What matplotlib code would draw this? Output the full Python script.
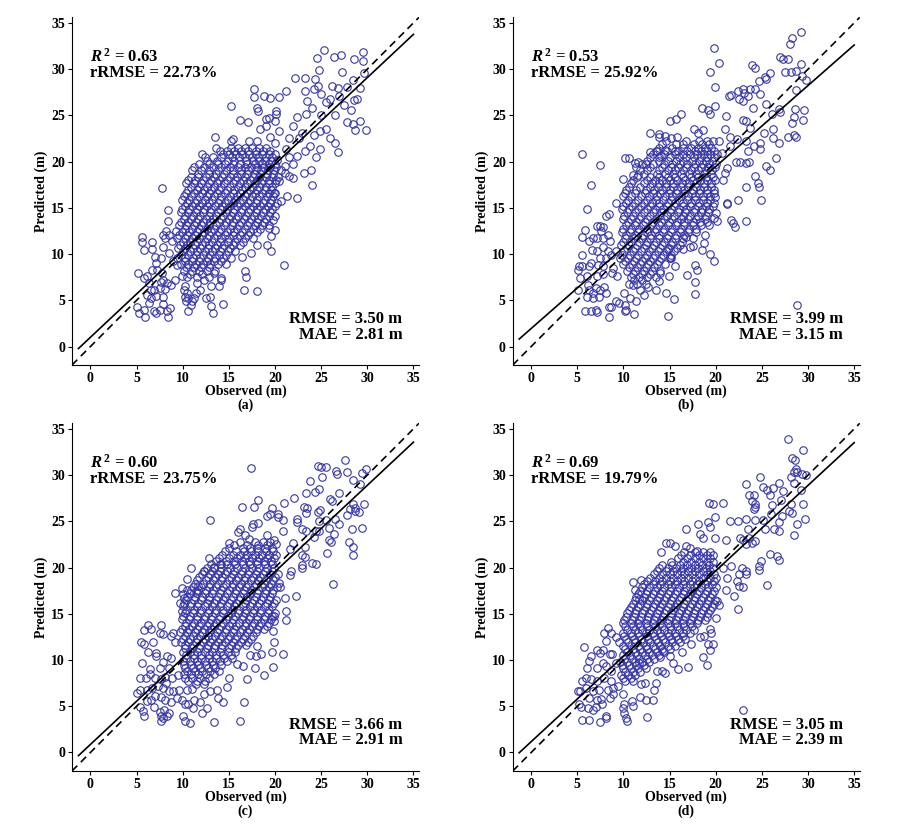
import numpy as np
import matplotlib
matplotlib.use("Agg")
import matplotlib.pyplot as plt

plt.rcParams['font.family'] = ['Liberation Serif', 'DejaVu Serif']
plt.rcParams['font.weight'] = 'bold'
plt.rcParams['mathtext.fontset'] = 'custom'
plt.rcParams['mathtext.rm'] = 'Liberation Serif:bold'
plt.rcParams['mathtext.bf'] = 'Liberation Serif:bold'
plt.rcParams['mathtext.it'] = 'Liberation Serif:italic:bold'

# ---- panel (a): scattered points (observed, predicted) ----
pts_a = [(25.3,32.1),(24.6,31.2),(26.4,31.3),(27.1,31.5),(29.5,31.8),(28.6,31.1),(29.5,30.9),
         (24.8,29.9),(27.3,29.7),(29.6,29.6),(22.2,29.0),(23.2,29.0),(24.3,28.9),(24.7,28.2),
         (26.2,28.2),(26.8,28.0),(27.8,28.1),(28.4,28.8),(29.2,28.0),(23.3,27.6),(24.2,27.9),
         (25.0,27.3),(26.0,26.8),(26.9,27.1),(28.6,26.7),(28.9,26.8),(27.5,26.1),(28.2,25.6),
         (23.5,26.5),(24.0,25.8),(25.5,26.4),(26.5,25.0),(25.0,25.0),(23.4,25.1),(22.4,24.8),
         (27.8,24.3),(28.4,24.1),(29.2,24.4),(28.7,23.4),(29.9,23.4),(24.9,23.3),(25.5,23.5),
         (22.0,23.9),(22.9,23.1),(24.2,22.9),(26.0,22.6),(26.5,22.0),(22.6,22.6),(21.5,22.5),
         (23.8,21.7),(24.9,21.4),(26.8,21.0),(23.2,21.2),(22.4,20.6),(24.4,20.5),(22.0,19.7),
         (23.1,18.8),(23.9,19.1),(21.5,18.4),(22.0,18.2),(24.0,17.5),(21.3,16.3),(22.4,16.1),
         (21.0,8.8),(21.1,19.5),(21.5,20.5),(21.2,21.4),
         (17.7,27.8),(17.7,27.0),(18.8,27.1),(19.5,26.9),(20.4,27.0),(21.2,27.6),(15.2,26.0),
         (18.1,25.8),(18.2,25.5),(20.1,25.5),(20.1,25.1),(16.2,24.5),(17.1,24.3),(19.0,24.6),
         (19.3,24.7),(19.96,24.4),(18.4,23.5),(19.0,23.8),(20.4,23.3),(19.5,22.7),(13.5,22.7),
         (15.2,22.2),(15.5,22.4),(17.2,22.2),(18.1,22.2),(20.0,22.0),
         (5.6,11.8),(5.6,11.3),(6.7,11.3),(5.8,10.4),(6.7,10.6),(7.8,17.1),(8.4,14.8),(8.4,13.6),
         (5.2,7.9),(5.8,7.4),(6.1,7.6),(6.7,8.3),(7.0,9.7),(7.1,9.0),(7.6,9.6),(7.9,10.8),
         (8.1,11.7),(7.9,12.1),(8.5,12.1),(8.2,12.5),(8.8,11.4),(8.5,10.1),(9.3,12.5),(9.0,9.2),
         (9.4,8.8),(7.2,8.3),(7.8,7.9),(7.6,7.0),(7.9,7.2),(6.4,6.9),(6.9,6.1),(7.5,6.3),
         (8.1,6.2),(8.3,6.9),(8.7,6.7),(6.1,5.6),(6.6,5.2),(7.1,5.5),(7.9,5.4),(5.1,4.3),
         (5.3,3.6),(5.8,4.0),(5.96,3.2),(6.4,4.7),(6.9,3.8),(7.1,3.6),(7.5,4.0),(7.9,4.6),
         (8.3,3.8),(8.4,3.2),(8.6,4.2),(6.6,6.1),
         (9.9,7.6),(9.2,7.2),(10.3,6.6),(10.1,6.1),(10.5,5.8),(10.2,5.4),(10.6,5.2),(10.4,4.9),
         (11.0,4.9),(11.4,5.8),(11.2,5.2),(10.9,4.5),(10.6,3.8),(11.9,6.1),(11.6,6.9),(12.5,5.2),
         (12.3,7.2),(13.1,6.6),(13.0,5.4),(13.1,4.4),(13.3,3.6),(13.9,6.6),(14.1,7.2),(14.4,4.6),
         (13.4,7.9),(14.1,7.4),(16.6,6.1),(16.9,7.5),(16.7,8.2),(18.0,6.0),(16.4,9.7),(17.4,10.1),
         (18.1,11.0),(19.1,11.0),(19.6,10.3),(20.0,12.6),(19.3,12.8),(19.6,12.0),(20.0,14.1),
         (19.8,13.7),(20.7,15.7),(19.9,16.6),(20.4,17.9),(20.6,19.1),(21.1,18.8),(20.2,20.2)]
# dense core of panel (a): predicted value of each row, observed values in that row
core_a_y = [21.5, 20.8, 20.1, 19.4, 18.7, 18.0, 17.3, 16.6, 15.9, 15.2, 14.5,
            13.8, 13.1, 12.4, 11.7, 11.0, 10.3, 9.6, 8.9, 8.2, 7.5]
core_a_x = [[13.6, 15.2, 16.0, 16.7, 17.5, 18.3, 19.0],
            [12.1, 14.4, 15.0, 15.8, 16.4, 17.2, 17.9, 18.6, 19.3, 20.0],
            [12.6, 13.7, 14.9, 15.6, 16.9, 17.6, 18.3, 18.9, 19.6],
            [11.2, 12.3, 13.3, 14.2, 15.1, 16.0, 16.7, 17.4, 18.1, 18.8, 19.5, 20.1],
            [11.7, 12.8, 13.6, 14.5, 15.4, 16.3, 17.0, 17.8, 18.4, 19.1, 19.8],
            [10.6, 11.3, 12.2, 13.1, 13.9, 14.8, 15.7, 16.5, 17.3, 18.0, 18.7, 19.4, 20.1],
            [10.9, 11.8, 12.6, 13.4, 14.2, 15.1, 16.0, 16.8, 17.6, 18.3, 19.0, 19.7],
            [10.4, 11.2, 12.1, 12.9, 13.7, 14.6, 15.4, 16.2, 17.0, 17.8, 18.6, 19.3, 20.0],
            [9.9, 10.7, 11.5, 12.4, 13.2, 14.0, 14.9, 15.7, 16.5, 17.3, 18.1, 18.9, 19.6],
            [10.2, 11.0, 11.8, 12.6, 13.5, 14.3, 15.1, 15.9, 16.8, 17.6, 18.4, 19.2, 20.0],
            [9.8, 10.6, 11.4, 12.2, 13.0, 13.8, 14.7, 15.5, 16.3, 17.1, 17.9, 18.7, 19.5],
            [10.1, 10.9, 11.7, 12.5, 13.3, 14.2, 15.0, 15.8, 16.6, 17.4, 18.2, 19.0],
            [9.6, 10.4, 11.2, 12.0, 12.8, 13.6, 14.5, 15.3, 16.1, 17.0, 17.8, 18.6, 19.3],
            [9.9, 10.7, 11.5, 12.3, 13.1, 13.9, 14.8, 15.6, 16.4, 17.3, 18.1],
            [9.4, 10.2, 11.0, 11.8, 12.6, 13.4, 14.2, 15.0, 15.9, 16.7, 17.6],
            [9.7, 10.5, 11.3, 12.1, 12.9, 13.7, 14.5, 15.4, 16.2],
            [10.0, 10.8, 11.6, 12.4, 13.2, 14.0, 14.9, 15.7],
            [9.4, 10.3, 11.1, 11.9, 12.7, 13.5, 14.4, 15.2],
            [9.8, 10.6, 11.4, 12.2, 13.0, 13.8, 14.7],
            [10.1, 11.0, 11.8, 12.6, 13.5],
            [10.5, 11.5, 12.8]]
core_a_y2 = [21.15, 20.45, 19.75, 19.05, 18.35, 17.65, 16.95, 16.25, 15.55, 14.85,
             14.15, 13.45, 12.75, 12.05, 11.35, 10.65, 9.95, 9.25, 8.55, 7.85]
core_a_x2 = [[14.0, 14.8, 15.6, 16.3, 17.1, 17.9, 18.7, 19.5],
             [12.4, 13.3, 14.1, 15.3, 16.1, 16.8, 17.5, 18.2, 19.0, 19.7],
             [11.8, 12.9, 13.8, 14.6, 15.4, 16.2, 17.0, 17.8, 18.6, 19.3, 20.0],
             [11.0, 12.0, 12.9, 13.8, 14.7, 15.5, 16.3, 17.1, 17.9, 18.5, 19.2, 19.9],
             [10.9, 11.7, 12.5, 13.4, 14.3, 15.1, 15.9, 16.8, 17.6, 18.3, 19.0, 19.7, 20.3],
             [10.4, 11.2, 12.0, 12.9, 13.7, 14.5, 15.4, 16.2, 17.0, 17.8, 18.5, 19.3, 20.0],
             [10.6, 11.5, 12.3, 13.1, 13.9, 14.8, 15.6, 16.4, 17.3, 18.1, 18.9, 19.6],
             [10.1, 10.9, 11.8, 12.6, 13.4, 14.2, 15.1, 15.9, 16.7, 17.5, 18.3, 19.1, 19.8],
             [10.5, 11.3, 12.1, 12.9, 13.8, 14.6, 15.4, 16.2, 17.1, 17.9, 18.7, 19.5, 20.2],
             [9.9, 10.7, 11.5, 12.3, 13.1, 14.0, 14.8, 15.6, 16.4, 17.3, 18.1, 18.9, 19.7],
             [10.3, 11.1, 11.9, 12.8, 13.6, 14.4, 15.2, 16.0, 16.9, 17.7, 18.5, 19.3],
             [9.8, 10.6, 11.4, 12.2, 13.0, 13.9, 14.7, 15.5, 16.3, 17.2, 18.0, 18.8],
             [10.2, 11.0, 11.8, 12.6, 13.4, 14.2, 15.1, 15.9, 16.8, 17.6, 18.4],
             [9.6, 10.5, 11.3, 12.1, 12.9, 13.7, 14.6, 15.4, 16.2, 17.1],
             [10.0, 10.8, 11.6, 12.4, 13.2, 14.0, 14.9, 15.7, 16.5],
             [9.5, 10.3, 11.1, 11.9, 12.7, 13.5, 14.3, 15.1],
             [9.8, 10.6, 11.4, 12.2, 13.0, 13.9, 14.7],
             [10.2, 11.0, 11.8, 12.6, 13.4, 14.2],
             [10.4, 11.2, 12.0, 12.9],
             [10.8, 12.1]]

# ---- panel (b) ----
pts_b = [(29.2,34.0),(28.3,33.4),(28.0,32.7),(19.8,32.3),(20.4,30.7),(19.4,29.7),(19.9,28.1),
         (27.0,31.3),(27.3,31.1),(27.8,31.1),(29.2,30.6),(23.9,30.5),(24.3,30.1),(27.5,29.7),
         (28.2,29.7),(28.7,29.8),(29.3,29.3),(29.8,28.8),(25.9,29.6),(25.3,29.2),(25.4,28.9),
         (24.7,28.7),(22.9,27.9),(23.7,27.8),(24.2,27.8),(22.4,27.6),(21.4,27.1),(21.6,27.2),
         (28.7,27.7),(23.1,27.4),(23.5,27.1),(22.5,26.8),(22.9,26.5),(24.8,27.3),(24.0,25.8),
         (25.4,26.2),(26.8,25.7),(28.6,25.7),(29.6,25.6),(26.97,25.4),(26.1,25.1),(21.1,24.9),
         (22.9,24.5),(23.3,24.4),(28.5,24.8),(28.3,24.2),(29.5,24.5),(25.2,23.1),(26.2,23.5),
         (23.7,23.6),(21.0,23.5),(27.8,22.7),(28.5,22.9),(28.7,22.7),(26.2,22.6),(26.8,22.0),
         (24.8,22.0),(23.3,22.2),(22.3,22.4),(24.1,21.7),(24.8,21.4),(23.5,21.1),(22.2,20.0),
         (22.6,20.0),(26.5,20.4),(25.4,19.5),(25.9,19.1),(23.3,19.8),(23.6,20.0),(24.2,18.4),
         (24.6,17.7),(24.7,17.2),(23.3,17.2),(24.9,15.9),(22.4,15.9),(21.2,15.4),(21.7,13.7),
         (21.9,13.4),(22.1,12.9),(23.3,13.6),(28.8,4.5),(20.8,18.0),(21.0,18.8),(21.2,19.3),
         (20.7,20.9),(21.5,21.7),(20.4,22.2),(21.5,22.7),
         (18.5,25.8),(19.2,25.6),(19.9,26.0),(19.4,25.1),(15.0,24.4),(15.7,24.6),(16.2,25.1),
         (12.9,23.1),(13.8,23.0),(13.9,22.7),(14.5,22.8),(15.2,22.5),(15.8,22.7),(17.6,23.5),
         (18.1,23.1),(18.6,23.4),(12.9,21.0),(13.6,21.2),(14.1,20.6),(14.5,21.3),(15.6,21.1),
         (10.2,20.4),(10.6,20.4),(11.2,19.9),(11.6,20.0),(12.4,19.7),(10.0,18.1),(11.0,18.6),
         (11.6,18.5),(9.2,15.5),
         (5.5,20.8),(7.5,19.6),(6.5,17.5),(6.0,14.9),(5.8,12.6),(5.5,11.8),(6.3,11.4),(5.5,9.9),
         (6.7,11.7),(7.1,13.0),(7.5,13.0),(7.8,12.9),(7.6,12.5),(8.1,14.1),(8.4,14.3),(7.1,11.7),
         (7.8,11.7),(8.3,12.1),(8.5,11.4),(7.8,10.8),(8.3,10.3),(7.1,10.3),(6.6,10.4),(7.5,9.6),
         (8.1,9.6),(8.6,9.9),(9.2,10.3),(6.5,9.0),(7.2,8.8),(7.8,8.7),(5.2,8.7),(5.5,8.7),
         (5.1,8.3),(6.3,8.7),(5.3,7.4),(6.0,7.6),(7.1,7.6),(7.8,7.8),(8.9,8.5),(8.8,7.9),
         (9.3,7.6),(5.1,6.1),(6.2,6.7),(6.3,6.1),(6.7,5.8),(7.0,6.3),(7.5,6.1),(7.9,6.4),
         (8.1,5.8),(7.4,5.4),(6.7,5.2),(6.0,5.4),(5.8,3.8),(6.5,3.8),(7.0,4.0),(7.1,3.7),
         (8.4,4.3),(8.6,4.3),(8.4,3.2),(9.2,4.9),(9.5,4.7),(10.2,4.5),(10.3,4.0),(10.2,3.8),
         (11.1,3.5),(10.1,5.8),(10.7,5.2),(11.4,4.9),(11.0,6.7),(11.8,6.1),(12.2,5.6),(12.7,6.4),
         (13.5,6.1),(13.8,7.1),(14.0,7.9),(14.6,5.8),(15.5,5.1),(14.8,3.3),(14.9,7.6),(15.6,8.7),
         (15.0,9.7),(15.2,9.6),(16.9,7.7),(17.7,7.0),(17.8,5.7),(17.7,8.8),(18.0,8.3),(18.5,10.4),
         (18.7,11.2),(19.4,10.0),(19.8,9.3),(18.8,12.1),(19.8,13.9),(20.1,13.6),(20.0,14.4),
         (19.9,16.2),(21.2,15.5),(17.2,10.8),(17.5,10.9),(16.8,11.8),(16.5,10.6),(14.8,10.6)]
core_b_y = [22.2, 21.5, 20.8, 20.1, 19.4, 18.7, 18.0, 17.3, 16.6, 15.9, 15.2, 14.5,
            13.8, 13.1, 12.4, 11.7, 11.0, 10.3, 9.6, 8.9, 8.2, 7.5, 6.8]
core_b_x = [[14.6, 16.8, 18.2, 19.0, 19.7],
            [13.9, 15.3, 16.5, 17.3, 18.1, 18.8, 19.5],
            [13.2, 14.4, 15.6, 16.4, 17.2, 18.0, 18.7, 19.4, 20.1],
            [12.6, 13.8, 14.8, 15.7, 16.5, 17.4, 18.2, 18.9, 19.6],
            [11.4, 12.9, 14.2, 15.1, 15.9, 16.8, 17.6, 18.4, 19.2, 19.9],
            [12.2, 13.6, 14.5, 15.4, 16.2, 17.1, 17.9, 18.7, 19.5],
            [11.0, 12.6, 13.4, 14.2, 15.0, 15.8, 16.7, 17.5, 18.3, 19.1, 19.9],
            [10.6, 11.8, 12.9, 13.7, 14.6, 15.4, 16.2, 17.0, 17.9, 18.7, 19.5],
            [10.2, 11.2, 12.3, 13.2, 14.0, 14.9, 15.7, 16.6, 17.4, 18.2, 19.0, 19.8],
            [10.5, 11.6, 12.6, 13.5, 14.3, 15.2, 16.0, 16.9, 17.7, 18.6, 19.4],
            [10.0, 10.9, 11.9, 12.9, 13.8, 14.7, 15.5, 16.4, 17.2, 18.1, 18.9, 19.7],
            [10.4, 11.3, 12.2, 13.2, 14.1, 15.0, 15.9, 16.7, 17.6, 18.4, 19.2],
            [9.9, 10.8, 11.7, 12.6, 13.5, 14.4, 15.3, 16.2, 17.0, 17.9, 18.8],
            [10.3, 11.2, 12.1, 13.0, 13.9, 14.8, 15.7, 16.6, 17.5, 18.4, 19.3],
            [9.8, 10.7, 11.6, 12.5, 13.4, 14.3, 15.2, 16.1, 17.0, 17.9],
            [10.2, 11.1, 12.0, 12.9, 13.8, 14.7, 15.6, 16.5, 17.5],
            [9.7, 10.6, 11.5, 12.4, 13.3, 14.2, 15.1, 16.1],
            [10.1, 11.0, 11.9, 12.8, 13.7, 14.6, 15.5],
            [9.6, 10.5, 11.4, 12.3, 13.2, 14.1, 15.0],
            [10.0, 10.9, 11.8, 12.7, 13.6, 14.5],
            [10.4, 11.3, 12.2, 13.1, 14.0],
            [10.8, 11.7, 12.6, 13.5],
            [10.6, 11.5, 12.4]]
core_b_y2 = [21.85, 21.15, 20.45, 19.75, 19.05, 18.35, 17.65, 16.95, 16.25, 15.55, 14.85,
             14.15, 13.45, 12.75, 12.05, 11.35, 10.65, 9.95, 9.25, 8.55, 7.85, 7.15]
core_b_x2 = [[14.2, 15.7, 16.4, 17.6, 18.5, 19.3],
             [13.5, 14.7, 15.9, 16.9, 17.7, 18.4, 19.1, 19.8],
             [12.9, 13.8, 15.0, 16.0, 16.8, 17.6, 18.4, 19.0, 19.8],
             [12.0, 13.2, 14.4, 15.3, 16.1, 16.9, 17.8, 18.6, 19.3, 20.0],
             [11.8, 12.6, 13.9, 14.8, 15.6, 16.5, 17.3, 18.1, 18.9, 19.6],
             [11.5, 12.9, 13.9, 14.8, 15.6, 16.4, 17.3, 18.1, 18.9, 19.7],
             [10.8, 12.2, 13.1, 13.8, 14.6, 15.4, 16.3, 17.1, 17.9, 18.7, 19.5],
             [10.3, 11.4, 12.4, 13.3, 14.2, 15.0, 15.8, 16.6, 17.5, 18.3, 19.1, 19.8],
             [10.0, 10.8, 11.9, 12.8, 13.6, 14.5, 15.3, 16.2, 17.0, 17.8, 18.6, 19.4],
             [10.3, 11.3, 12.2, 13.1, 13.9, 14.8, 15.6, 16.5, 17.3, 18.2, 19.0, 19.8],
             [9.8, 10.6, 11.6, 12.5, 13.4, 14.3, 15.1, 16.0, 16.8, 17.7, 18.5, 19.3],
             [10.1, 11.0, 11.9, 12.9, 13.8, 14.7, 15.5, 16.4, 17.2, 18.1, 18.9],
             [10.5, 11.4, 12.3, 13.2, 14.1, 14.9, 15.8, 16.6, 17.5, 18.3, 19.1],
             [9.9, 10.8, 11.7, 12.6, 13.5, 14.4, 15.3, 16.2, 17.1, 17.9],
             [10.3, 11.2, 12.1, 13.0, 13.9, 14.8, 15.7, 16.6],
             [9.9, 10.8, 11.7, 12.6, 13.5, 14.4, 15.3, 16.3],
             [10.4, 11.3, 12.2, 13.1, 14.0, 14.9, 15.8],
             [9.8, 10.7, 11.6, 12.5, 13.4, 14.3, 15.2],
             [10.2, 11.1, 12.0, 12.9, 13.8],
             [10.6, 11.5, 12.4, 13.3],
             [11.0, 12.0, 12.9],
             [11.1, 12.0]]

# ---- panel (c) ----
pts_c = [(27.6,31.6),(24.7,31.0),(25.0,30.9),(25.5,30.9),(17.4,30.8),(26.6,30.4),(26.7,30.1),
         (27.8,30.3),(29.4,30.2),(29.9,30.7),(25.1,29.8),(23.8,29.4),(28.5,29.5),(29.2,29.0),
         (23.4,28.1),(24.3,28.2),(24.8,28.5),(26.9,28.1),(22.1,27.5),(21.0,27.0),(26.0,27.4),
         (26.2,27.2),(29.6,26.9),(28.5,26.9),(28.7,26.4),(23.1,26.6),(23.5,26.4),(24.9,26.2),
         (24.7,26.0),(28.1,26.3),(28.7,26.1),(29.1,26.0),(23.4,25.9),(27.8,25.7),(25.5,25.1),
         (26.5,25.3),(13.0,25.1),(22.4,25.2),(22.4,24.9),(24.8,25.0),(26.9,24.7),(22.9,24.2),
         (23.4,24.0),(25.8,24.3),(28.3,24.2),(29.4,24.3),(24.4,23.9),(24.8,23.9),(26.4,23.6),
         (24.2,23.3),(25.9,23.0),(26.1,22.8),(22.0,22.7),(28.0,22.8),(23.2,22.2),(28.5,22.2),
         (25.6,21.6),(28.5,21.4),(21.6,22.0),(22.9,21.4),(23.3,21.1),(24.0,20.5),(24.4,20.4),
         (22.9,20.3),(22.9,19.9),(21.7,19.6),(21.6,19.2),(26.3,18.2),(22.3,16.9),(21.1,16.7),
         (21.2,15.3),(21.2,14.3),(20.9,10.7),(20.4,18.3),(20.5,17.9),
         (16.4,26.6),(17.7,26.6),(18.2,27.3),(19.7,26.4),(19.5,25.8),(19.1,25.6),(20.3,25.8),
         (20.3,25.5),(20.9,25.1),(17.6,24.7),(17.5,24.4),(18.2,24.8),(16.2,24.2),(16.0,23.8),
         (15.0,22.7),(16.8,23.5),(17.2,23.1),(19.1,23.5),(19.9,23.0),(20.1,22.5),(20.9,24.0),
         (12.9,21.0),(10.9,19.9),(13.4,20.1),(12.3,19.6),(14.1,20.4),(10.5,18.8),(9.2,17.2),
         (9.9,17.8),(10.0,17.1),(10.1,16.7),(10.5,17.6),(11.4,17.5),(11.7,18.0),(9.7,16.2),
         (9.9,15.3),
         (6.2,13.8),(5.8,13.2),(6.6,13.4),(7.7,13.8),(7.5,12.9),(7.9,12.8),(5.5,11.9),(5.8,11.7),
         (6.8,11.9),(8.7,12.6),(9.2,12.0),(9.0,12.9),(6.2,10.9),(7.1,10.8),(7.1,10.4),(8.3,10.4),
         (8.7,10.2),(5.6,9.7),(7.9,9.8),(8.5,9.1),(6.5,9.0),(7.5,9.1),(5.4,8.1),(6.0,8.1),
         (6.5,8.5),(7.0,8.1),(7.6,7.9),(8.1,8.2),(8.2,7.5),(8.8,8.1),(9.5,8.4),(5.0,6.4),
         (5.4,6.8),(6.1,6.8),(6.7,7.0),(7.3,7.2),(7.9,7.0),(8.5,6.6),(9.0,6.6),(9.6,6.8),
         (6.1,5.6),(6.6,5.7),(7.0,6.1),(7.6,6.0),(8.1,5.7),(8.7,5.5),(9.4,5.9),(5.4,4.9),
         (5.7,4.5),(6.9,4.9),(7.5,4.4),(8.0,4.6),(8.5,4.3),(5.8,3.9),(7.6,3.9),(7.6,3.4),
         (7.9,3.7),(8.3,3.9),(10.0,3.9),(10.3,3.4),(10.8,3.2),(13.4,3.3),(16.2,3.4),(16.6,5.5),
         (14.4,5.5),(13.8,5.9),(12.6,4.8),(12.1,4.3),(11.1,4.8),(10.6,5.2),(10.3,5.2),(9.9,5.7),
         (11.2,5.7),(11.9,5.5),(12.3,6.3),(10.5,6.8),(11.0,6.9),(13.0,6.6),(13.7,6.8),(14.8,7.1),
         (15.0,8.1),(17.0,8.0),(17.8,9.1),(18.8,8.4),(19.8,9.2),(19.7,10.9),(19.9,12.0),
         (18.5,10.7),(18.1,11.5),(17.9,10.4),(17.3,10.5),(16.5,9.4),(15.9,9.6),(19.8,13.1),
         (19.9,14.2),(19.9,14.8)]
core_c_y = [22.8, 22.1, 21.4, 20.7, 20.0, 19.3, 18.6, 17.9, 17.2, 16.5, 15.8, 15.1,
            14.4, 13.7, 13.0, 12.3, 11.6, 10.9, 10.2, 9.5, 8.8, 8.1, 7.4]
core_c_x = [[16.2, 17.8, 18.7, 19.5],
            [15.0, 16.5, 17.3, 18.1, 18.9, 19.7],
            [14.3, 15.4, 16.2, 17.0, 17.8, 18.6, 19.4, 20.1],
            [13.6, 14.7, 15.6, 16.4, 17.2, 18.0, 18.8, 19.6],
            [12.6, 13.4, 14.2, 15.1, 15.9, 16.7, 17.5, 18.3, 19.1, 19.9],
            [12.1, 13.0, 13.8, 14.6, 15.4, 16.3, 17.1, 17.9, 18.7, 19.5, 20.3],
            [11.6, 12.5, 13.3, 14.1, 15.0, 15.8, 16.6, 17.4, 18.2, 19.0, 19.8],
            [11.1, 12.0, 12.8, 13.6, 14.4, 15.3, 16.1, 16.9, 17.7, 18.6, 19.4, 20.2],
            [10.8, 11.6, 12.4, 13.2, 14.0, 14.8, 15.7, 16.5, 17.3, 18.1, 18.9, 19.7],
            [10.4, 11.2, 12.0, 12.8, 13.6, 14.4, 15.2, 16.1, 16.9, 17.7, 18.5, 19.3, 20.1],
            [10.0, 10.8, 11.6, 12.4, 13.2, 14.0, 14.8, 15.6, 16.5, 17.3, 18.1, 18.9, 19.7],
            [10.3, 11.1, 11.9, 12.7, 13.5, 14.4, 15.2, 16.0, 16.8, 17.6, 18.4, 19.2, 20.0],
            [9.9, 10.7, 11.5, 12.3, 13.1, 13.9, 14.7, 15.5, 16.4, 17.2, 18.0, 18.8, 19.6],
            [10.2, 11.0, 11.8, 12.6, 13.4, 14.2, 15.0, 15.8, 16.7, 17.5, 18.3, 19.1],
            [9.7, 10.5, 11.3, 12.1, 12.9, 13.7, 14.6, 15.4, 16.2, 17.0, 17.9],
            [10.0, 10.8, 11.6, 12.4, 13.2, 14.0, 14.9, 15.7, 16.5, 17.4],
            [10.3, 11.1, 11.9, 12.7, 13.5, 14.3, 15.2, 16.0, 16.9],
            [10.0, 10.8, 11.6, 12.4, 13.2, 14.0, 14.9, 15.7],
            [10.4, 11.2, 12.0, 12.8, 13.6, 14.5, 15.3],
            [10.1, 10.9, 11.7, 12.5, 13.3, 14.2],
            [10.5, 11.3, 12.1, 13.0, 13.9],
            [10.2, 11.0, 11.9, 12.8],
            [11.4, 12.3]]
core_c_y2 = [22.45, 21.75, 21.05, 20.35, 19.65, 18.95, 18.25, 17.55, 16.85, 16.15, 15.45,
             14.75, 14.05, 13.35, 12.65, 11.95, 11.25, 10.55, 9.85, 9.15, 8.45, 7.75]
core_c_x2 = [[15.6, 17.0, 18.2, 19.1],
             [14.6, 15.8, 16.6, 17.4, 18.2, 19.0, 19.8],
             [13.9, 15.0, 15.9, 16.7, 17.5, 18.3, 19.1, 19.9],
             [13.1, 14.0, 14.8, 15.7, 16.5, 17.3, 18.1, 18.9, 19.7],
             [12.3, 13.2, 14.0, 14.8, 15.6, 16.4, 17.2, 18.1, 18.9, 19.7],
             [11.8, 12.7, 13.5, 14.3, 15.2, 16.0, 16.8, 17.6, 18.4, 19.2, 20.0],
             [11.3, 12.2, 13.0, 13.8, 14.7, 15.5, 16.3, 17.1, 17.9, 18.8, 19.6],
             [10.9, 11.7, 12.5, 13.3, 14.1, 15.0, 15.8, 16.6, 17.4, 18.2, 19.0, 19.8],
             [10.5, 11.3, 12.1, 12.9, 13.8, 14.6, 15.4, 16.2, 17.0, 17.9, 18.7, 19.5],
             [10.1, 10.9, 11.7, 12.6, 13.4, 14.2, 15.0, 15.8, 16.7, 17.5, 18.3, 19.1, 19.9],
             [10.4, 11.2, 12.0, 12.8, 13.6, 14.4, 15.3, 16.1, 16.9, 17.7, 18.5, 19.3],
             [10.0, 10.8, 11.6, 12.4, 13.2, 14.0, 14.9, 15.7, 16.5, 17.3, 18.1, 18.9, 19.7],
             [10.4, 11.2, 12.0, 12.8, 13.6, 14.4, 15.3, 16.1, 16.9, 17.7, 18.5, 19.3],
             [9.9, 10.7, 11.5, 12.3, 13.1, 13.9, 14.7, 15.6, 16.4, 17.2, 18.0, 18.8],
             [10.3, 11.1, 11.9, 12.7, 13.5, 14.3, 15.1, 15.9, 16.8, 17.6],
             [9.8, 10.6, 11.4, 12.2, 13.0, 13.8, 14.6, 15.4, 16.3, 17.1],
             [10.2, 11.0, 11.8, 12.6, 13.4, 14.2, 15.0, 15.8],
             [10.4, 11.2, 12.0, 12.8, 13.6, 14.4, 15.2],
             [10.0, 10.8, 11.6, 12.4, 13.2, 14.0, 14.8],
             [10.3, 11.1, 11.9, 12.7, 13.5],
             [10.1, 10.9, 11.7, 12.5, 13.4],
             [10.6, 11.5, 12.4]]

# ---- panel (d) ----
pts_d = [(27.8,33.9),(29.5,32.7),(28.3,31.9),(28.6,31.6),(28.7,30.7),(28.8,30.3),(28.5,30.3),
         (29.3,30.1),(29.8,30.0),(24.8,29.8),(28.2,29.8),(26.8,29.1),(23.3,29.0),(25.1,28.7),
         (25.5,28.4),(26.2,28.6),(25.9,27.8),(23.6,27.8),(24.1,27.9),(23.9,27.2),(24.2,26.9),
         (27.3,28.3),(29.2,28.4),(28.5,29.1),(27.1,27.3),(28.2,26.9),(29.5,26.9),(24.2,26.6),
         (24.1,26.3),(26.1,26.8),(27.98,26.1),(28.3,25.9),(26.0,25.8),(27.2,25.6),(26.8,24.9),
         (25.1,25.1),(29.7,25.3),(28.8,24.7),(24.2,25.1),(23.3,25.2),(22.4,25.0),(21.5,25.0),
         (23.5,24.2),(25.3,24.2),(26.3,24.2),(26.9,24.0),(28.5,23.5),(22.6,23.2),(23.6,23.2),
         (21.1,23.0),(23.0,23.0),(24.2,22.9),(23.3,22.5),(23.9,22.7),(19.9,23.2),(20.8,27.0),
         (19.3,27.0),(19.7,26.9),(19.9,25.5),(19.2,24.9),(19.4,24.4),(18.1,24.7),(18.3,23.6),
         (18.6,23.2),(16.8,24.2),(14.6,22.7),(15.0,22.7),(15.6,22.3),(16.8,22.3),(14.1,21.7),
         (17.2,22.1),(18.0,21.8),(25.9,21.5),(26.6,21.3),(26.9,20.8),(24.9,20.7),(24.7,20.2),
         (24.7,19.7),(22.8,19.9),(23.3,19.6),(23.3,19.3),(22.5,19.3),(21.7,20.2),(20.8,19.9),
         (21.2,18.9),(22.3,18.5),(22.5,18.0),(22.9,17.9),(25.5,18.1),(22.0,16.9),(22.4,15.5),
         (21.1,17.6),(23.0,4.6),(11.0,18.4),(11.9,18.6),(11.2,17.6),(11.7,16.6),
         (5.7,11.4),(6.5,10.4),(7.1,11.1),(7.5,10.8),(7.8,11.1),(8.1,12.1),(7.9,12.9),(8.3,13.5),
         (8.7,12.9),(9.2,12.5),(9.5,12.0),(8.5,10.6),(8.8,10.6),(6.3,9.9),(6.1,9.1),(7.1,9.1),
         (7.8,9.7),(8.1,9.4),(8.7,8.8),(9.2,9.7),(5.9,8.1),(5.5,7.7),(6.5,7.9),(7.1,7.7),
         (7.9,8.1),(8.6,7.7),(5.1,6.6),(5.3,6.7),(5.9,7.0),(6.7,6.6),(7.4,6.8),(8.3,6.8),
         (8.9,7.0),(9.4,7.2),(6.3,5.9),(7.1,5.7),(7.6,5.8),(8.5,5.9),(8.9,6.3),(5.2,5.2),
         (5.4,4.9),(6.2,4.8),(6.7,4.6),(7.0,4.9),(7.7,5.2),(5.5,3.5),(6.3,3.5),(7.5,3.3),
         (8.1,3.9),(8.1,3.7),(10.0,6.3),(10.1,5.2),(10.0,4.8),(10.1,4.3),(10.3,3.7),(10.4,3.4),
         (10.9,5.6),(11.0,5.0),(11.8,6.0),(12.4,5.7),(12.5,3.8),(13.2,5.7),(13.3,6.8),(13.5,7.5),
         (11.9,7.4),(12.3,7.5),(11.7,9.7),(13.6,8.8),(14.2,8.8),(14.5,8.6),(14.0,10.3),(15.4,9.7),
         (15.9,9.0),(17.0,9.2),(14.3,11.0),(15.0,10.4),(16.3,10.9),(17.3,11.7),(18.6,10.3),
         (19.1,9.5),(19.2,11.7),(19.7,11.7),(19.4,11.1),(18.7,12.6),(18.3,12.5),(19.4,13.4),
         (19.5,12.9),(20.0,14.5),(20.4,15.9),(20.1,16.4)]
core_d_y = [21.7, 21.0, 20.3, 19.6, 18.9, 18.2, 17.5, 16.8, 16.1, 15.4, 14.7,
            14.0, 13.3, 12.6, 11.9, 11.2, 10.5, 9.8, 9.1, 8.4, 7.7]
core_d_x = [[16.6, 17.7, 18.6, 19.4],
            [15.9, 16.9, 17.8, 18.6, 19.4],
            [14.2, 15.3, 16.1, 16.9, 17.7, 18.5, 19.3],
            [13.6, 14.6, 15.4, 16.2, 17.0, 17.8, 18.6, 19.4],
            [12.9, 13.8, 14.6, 15.4, 16.2, 17.0, 17.8, 18.6, 19.4, 20.0],
            [12.2, 13.2, 14.0, 14.8, 15.6, 16.4, 17.2, 18.0, 18.8, 19.6],
            [11.8, 12.6, 13.4, 14.2, 15.0, 15.8, 16.6, 17.4, 18.2, 19.0, 19.8],
            [11.4, 12.2, 13.0, 13.8, 14.6, 15.4, 16.2, 17.0, 17.8, 18.6, 19.4],
            [11.0, 11.8, 12.6, 13.4, 14.2, 15.0, 15.8, 16.6, 17.4, 18.2, 19.0, 19.8],
            [10.6, 11.4, 12.2, 13.0, 13.8, 14.6, 15.4, 16.2, 17.0, 17.8, 18.6, 19.4],
            [10.3, 11.1, 11.9, 12.7, 13.5, 14.3, 15.1, 15.9, 16.7, 17.5, 18.3, 19.1],
            [10.0, 10.8, 11.6, 12.4, 13.2, 14.0, 14.8, 15.6, 16.4, 17.2, 18.0],
            [10.4, 11.2, 12.0, 12.8, 13.6, 14.4, 15.2, 16.0, 16.8, 17.6],
            [10.1, 10.9, 11.7, 12.5, 13.3, 14.1, 14.9, 15.7, 16.5],
            [10.5, 11.3, 12.1, 12.9, 13.7, 14.5, 15.3, 16.1],
            [10.2, 11.0, 11.8, 12.6, 13.4, 14.2, 15.0],
            [9.9, 10.7, 11.5, 12.3, 13.1, 13.9],
            [9.6, 10.4, 11.2, 12.0, 12.8],
            [10.0, 10.8, 11.6, 12.4],
            [9.7, 10.5, 11.3],
            [10.2, 11.0]]
core_d_y2 = [21.35, 20.65, 19.95, 19.25, 18.55, 17.85, 17.15, 16.45, 15.75, 15.05,
             14.35, 13.65, 12.95, 12.25, 11.55, 10.85, 10.15, 9.45, 8.75, 8.05]
core_d_x2 = [[16.2, 17.2, 18.2, 19.0, 19.7],
             [15.2, 16.5, 17.3, 18.2, 19.0, 19.7],
             [13.9, 14.8, 15.7, 16.5, 17.3, 18.1, 18.9, 19.7],
             [13.3, 14.2, 15.0, 15.8, 16.6, 17.4, 18.2, 19.0, 19.8],
             [12.6, 13.4, 14.2, 15.0, 15.8, 16.6, 17.4, 18.2, 19.0, 19.8],
             [12.0, 12.8, 13.6, 14.4, 15.2, 16.0, 16.8, 17.6, 18.4, 19.2, 20.0],
             [11.6, 12.4, 13.2, 14.0, 14.8, 15.6, 16.4, 17.2, 18.0, 18.8, 19.6],
             [11.2, 12.0, 12.8, 13.6, 14.4, 15.2, 16.0, 16.8, 17.6, 18.4, 19.2, 19.9],
             [10.8, 11.6, 12.4, 13.2, 14.0, 14.8, 15.6, 16.4, 17.2, 18.0, 18.8, 19.6],
             [10.4, 11.2, 12.0, 12.8, 13.6, 14.4, 15.2, 16.0, 16.8, 17.6, 18.4, 19.2],
             [10.1, 10.9, 11.7, 12.5, 13.3, 14.1, 14.9, 15.7, 16.5, 17.3, 18.1, 18.8],
             [10.2, 11.0, 11.8, 12.6, 13.4, 14.2, 15.0, 15.8, 16.6, 17.4],
             [10.0, 10.8, 11.6, 12.4, 13.2, 14.0, 14.8, 15.6, 16.4, 17.2],
             [10.3, 11.1, 11.9, 12.7, 13.5, 14.3, 15.1, 15.9, 16.7],
             [10.0, 10.8, 11.6, 12.4, 13.2, 14.0, 14.8, 15.6],
             [10.4, 11.2, 12.0, 12.8, 13.6, 14.4],
             [10.1, 10.9, 11.7, 12.5, 13.3],
             [9.8, 10.6, 11.4, 12.2],
             [10.2, 11.0, 11.8],
             [10.0, 10.8]]

# fitted regression lines (slope, intercept) and statistics
fit_slope = [0.936, 0.876, 0.934, 0.924]
fit_icpt = [1.00, 1.95, 0.87, 1.17]
r2 = ['0.63', '0.53', '0.60', '0.69']
rrmse = ['22.73', '25.92', '23.75', '19.79']
rmse = ['3.50', '3.99', '3.66', '3.05']
mae = ['2.81', '3.15', '2.91', '2.39']
tags = ['(a)', '(b)', '(c)', '(d)']

panels = [(pts_a, core_a_y, core_a_x, core_a_y2, core_a_x2),
          (pts_b, core_b_y, core_b_x, core_b_y2, core_b_x2),
          (pts_c, core_c_y, core_c_x, core_c_y2, core_c_x2),
          (pts_d, core_d_y, core_d_x, core_d_y2, core_d_x2)]

fig = plt.figure(figsize=(9.12, 8.30), dpi=100)
boxes = [[0.0789, 0.5602, 0.3805, 0.4189], [0.5622, 0.5602, 0.3805, 0.4189],
         [0.0789, 0.0711, 0.3805, 0.4189], [0.5622, 0.0711, 0.3805, 0.4189]]
mcol = '#3636a8'

for i, (pts, cy, cx, cy2, cx2) in enumerate(panels):
    ax = fig.add_axes(boxes[i])
    xs = [p[0] for p in pts]
    ys = [p[1] for p in pts]
    for yv, row in list(zip(cy, cx)) + list(zip(cy2, cx2)):
        xs += row
        ys += [yv] * len(row)
    ax.plot(xs, ys, 'o', ms=5.4, mfc='none', mec=mcol, mew=0.8, zorder=2)

    lim = (-2, 35.6)
    ax.plot(lim, lim, color='k', ls=(0, (4.5, 3)), lw=1.2, zorder=3)
    fx = np.array([-1.3, 35.0])
    ax.plot(fx, fit_slope[i] * fx + fit_icpt[i], color='k', lw=1.2, zorder=3)

    ax.set_xlim(lim)
    ax.set_ylim(lim)
    ax.set_xticks(range(0, 36, 5))
    ax.set_yticks(range(0, 36, 5))
    ax.spines['top'].set_visible(False)
    ax.spines['right'].set_visible(False)
    ax.tick_params(direction='out', length=3, width=0.8, labelsize=10, pad=2)
    for lab in ax.get_xticklabels() + ax.get_yticklabels():
        lab.set_fontweight('bold')
    ax.set_xlabel('Observed (m)', fontsize=10, fontweight='bold', labelpad=0)
    ax.set_ylabel('Predicted (m)', fontsize=10, fontweight='bold', labelpad=2)
    ax.text(0.5, -0.097, tags[i], transform=ax.transAxes, ha='center', va='top',
            fontsize=10, fontweight='bold')

    ax.text(0, 31.3, r'$\mathit{R}^{\,2}$ = ' + r2[i], fontsize=12, fontweight='bold', va='center')
    ax.text(0, 29.6, 'rRMSE = ' + rrmse[i] + '%', fontsize=12, fontweight='bold', va='center')
    ax.text(33.8, 3.0, 'RMSE = ' + rmse[i] + ' m', fontsize=12, fontweight='bold',
            ha='right', va='center')
    ax.text(33.8, 1.3, 'MAE = ' + mae[i] + ' m', fontsize=12, fontweight='bold',
            ha='right', va='center')

fig.savefig('out.png', dpi=100)
